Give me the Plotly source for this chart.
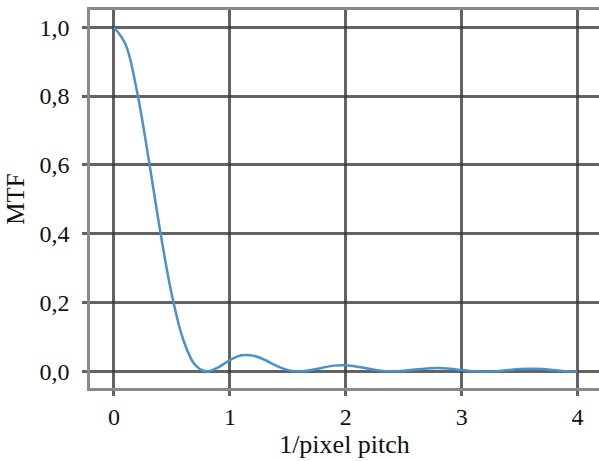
import plotly.graph_objects as go

# Data
freq = [0.0, 0.1, 0.2, 0.3, 0.4, 0.5, 0.6, 0.7, 0.8, 0.9,
        1.0, 1.1, 1.2, 1.3, 1.4, 1.5, 1.6, 1.7, 1.8, 1.9,
        2.0, 2.1, 2.2, 2.3, 2.4, 2.5, 2.6, 2.7, 2.8, 2.9,
        3.0, 3.1, 3.2, 3.3, 3.4, 3.5, 3.6, 3.7, 3.8, 3.9, 4.0]
mtf = [1.000, 0.950, 0.811, 0.615, 0.405, 0.221, 0.090, 0.019, 0.000, 0.012,
       0.033, 0.047, 0.046, 0.034, 0.017, 0.004, 0.000, 0.004, 0.011, 0.017,
       0.018, 0.014, 0.008, 0.002, 0.000, 0.002, 0.006, 0.009, 0.010, 0.008,
       0.004, 0.001, 0.000, 0.001, 0.004, 0.007, 0.008, 0.007, 0.004, 0.001, 0.000]
x_ticks = [0, 1, 2, 3, 4]
y_ticks = [0.0, 0.2, 0.4, 0.6, 0.8, 1.0]

GRID = "rgba(60,60,60,0.8)"
BORDER = "#8a8a8a"
FONT = "Liberation Serif, Times New Roman, DejaVu Serif, serif"
X_RANGE = [-0.207, 4.185]

fig = go.Figure()
fig.add_trace(go.Scatter(x=freq, y=mtf, mode="lines",
                         line=dict(color="#4a92cc", width=2.5, shape="spline", smoothing=1.0),
                         showlegend=False, hoverinfo="skip"))
# invisible helper trace on a top axis so its axis line forms the top border
fig.add_trace(go.Scatter(x=[None], y=[None], xaxis="x2", mode="lines",
                         showlegend=False, hoverinfo="skip"))

fig.update_layout(
    width=599, height=461,
    margin=dict(l=90, r=0, t=10, b=73),
    paper_bgcolor="white", plot_bgcolor="white",
    separators=", ",
    font=dict(family=FONT, size=24, color="#111"),
    xaxis=dict(range=X_RANGE, tickvals=x_ticks, ticktext=[str(v) for v in x_ticks],
               showgrid=True, gridcolor=GRID, gridwidth=2.5,
               zeroline=True, zerolinecolor=GRID, zerolinewidth=2.5,
               showline=True, linecolor=BORDER, linewidth=2.5, mirror=False,
               ticks="outside", ticklen=5, tickwidth=2.5, tickcolor=GRID,
               title=dict(text="1/pixel pitch", font=dict(family=FONT, size=26), standoff=6),
               tickfont=dict(family=FONT, size=24)),
    xaxis2=dict(range=X_RANGE, overlaying="x", side="top", anchor="y",
                showgrid=False, zeroline=False, showticklabels=False, ticks="",
                showline=True, linecolor=BORDER, linewidth=2.5),
    yaxis=dict(range=[-0.048, 1.050], tickvals=y_ticks, tickformat=".1f",
               showgrid=True, gridcolor=GRID, gridwidth=2.5,
               zeroline=True, zerolinecolor=GRID, zerolinewidth=2.5,
               showline=True, linecolor=BORDER, linewidth=2.5, mirror=False,
               ticks="outside", ticklen=5, tickwidth=2.5, tickcolor=GRID,
               ticklabelstandoff=8,
               title=dict(text="MTF", font=dict(family=FONT, size=25), standoff=8),
               tickfont=dict(family=FONT, size=24)),
)

fig.write_html("out.html")
